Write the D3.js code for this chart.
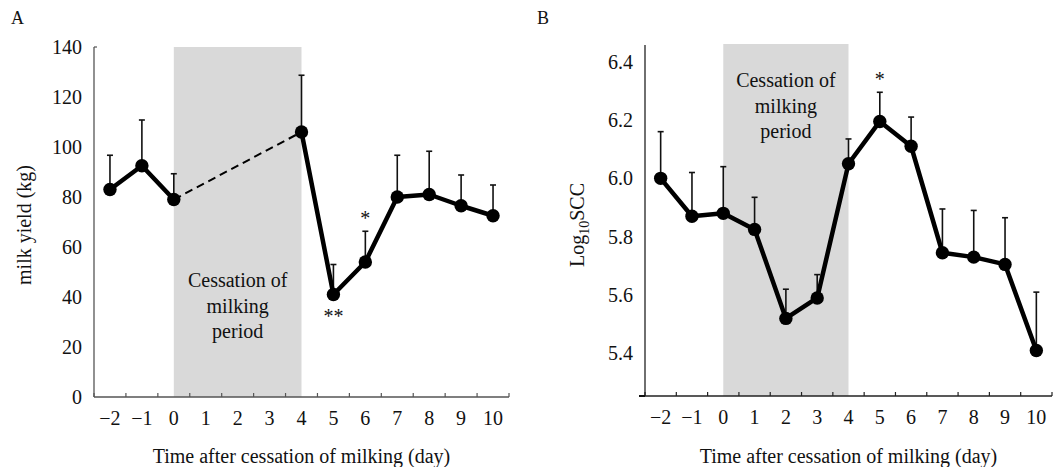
<!DOCTYPE html>
<html><head><meta charset="utf-8">
<script src="https://cdn.jsdelivr.net/npm/d3@7"></script>
<style>
body{margin:0;background:#fff;}
svg text{font-family:"Liberation Serif","Times New Roman",serif;fill:#111;}
</style></head>
<body>
<svg id="chart" width="1060" height="467"></svg>
<script>
// ---- data ----
const days = [-2,-1,0,1,2,3,4,5,6,7,8,9,10];
const milkYield    = [83, 92.5, 79, null, null, null, 106, 41, 54, 80, 81, 76.5, 72.5];
const milkYieldErr = [13.7, 18.3, 10.3, null, null, null, 22.7, 12, 12.3, 16.7, 17.3, 12.3, 12.3];
const logSCC    = [6.00, 5.87, 5.88, 5.825, 5.52, 5.59, 6.05, 6.195, 6.11, 5.745, 5.73, 5.705, 5.41];
const logSCCErr = [0.16, 0.15, 0.16, 0.11, 0.10, 0.08, 0.085, 0.10, 0.10, 0.15, 0.16, 0.16, 0.20];
const yTicksA = [0,20,40,60,80,100,120,140];
const yTicksB = [5.4,5.6,5.8,6.0,6.2,6.4];
const periodStart = 0, periodEnd = 4;
const sigA = [{day:6, label:"*", pos:"above"},{day:5, label:"**", pos:"below"}];
const sigB = [{day:5, label:"*", pos:"above"}];
const periodLines = ["Cessation of","milking","period"];

const svg = d3.select("#chart");
const fmtDay = d => d < 0 ? "\u2212" + Math.abs(d) : String(d);

function panel(cfg){
  const g = svg.append("g");
  const x = d3.scaleBand().domain(days).range([cfg.x0, cfg.x1]).padding(0);
  const y = d3.scaleLinear().domain(cfg.yDomain).range([cfg.yBottom, cfg.yTop]);
  const cx = d => x(d) + x.bandwidth()/2;

  // shaded period
  g.append("rect")
    .attr("x", cx(periodStart)).attr("y", cfg.shadeTop)
    .attr("width", cx(periodEnd) - cx(periodStart))
    .attr("height", cfg.yBottom - cfg.shadeTop)
    .attr("fill", "#d9d9d9");

  // period text
  const t = g.append("text").attr("text-anchor","middle").attr("font-size",20);
  periodLines.forEach((s,i)=>{
    t.append("tspan").attr("x",(cx(periodStart)+cx(periodEnd))/2)
      .attr("y", cfg.textY + i*25.5).text(s);
  });

  // axes lines
  g.append("line").attr("x1",cfg.x0).attr("x2",cfg.x0)
    .attr("y1",cfg.yBottom).attr("y2",cfg.axisTop)
    .attr("stroke",cfg.axisColor).attr("stroke-width",1.3);
  g.append("line").attr("x1",cfg.x0).attr("x2",cfg.x1)
    .attr("y1",cfg.yBottom).attr("y2",cfg.yBottom)
    .attr("stroke",cfg.axisColor).attr("stroke-width",1.3);
  // x ticks at band edges
  const edges = days.map(d=>x(d)).concat([cfg.x1]);
  g.selectAll(".xt").data(edges).enter().append("line")
    .attr("x1",d=>d).attr("x2",d=>d).attr("y1",cfg.yBottom).attr("y2",cfg.yBottom-4)
    .attr("stroke",cfg.axisColor).attr("stroke-width",1.2);
  if (cfg.cornerTick){
    g.append("line").attr("x1",cfg.x0-6).attr("x2",cfg.x0)
      .attr("y1",cfg.yBottom).attr("y2",cfg.yBottom)
      .attr("stroke","#111").attr("stroke-width",2);
  } else {
    g.append("line").attr("x1",cfg.x0).attr("x2",cfg.x0+3)
      .attr("y1",cfg.axisTop).attr("y2",cfg.axisTop)
      .attr("stroke",cfg.axisColor).attr("stroke-width",1.2);
  }

  // x tick labels via d3 axis
  const xa = g.append("g").attr("transform",`translate(0,${cfg.yBottom})`)
    .call(d3.axisBottom(x).tickSize(0).tickPadding(14).tickFormat(fmtDay));
  xa.select(".domain").remove();
  xa.selectAll("text").attr("font-size",20).attr("font-family","Liberation Serif").attr("fill","#111");

  // y tick labels via d3 axis
  const ya = g.append("g").attr("transform",`translate(${cfg.x0},0)`)
    .call(d3.axisLeft(y).tickValues(cfg.yTicks).tickSize(0).tickPadding(12).tickFormat(cfg.yFmt));
  ya.select(".domain").remove();
  ya.selectAll("text").attr("font-size",20).attr("font-family","Liberation Serif").attr("fill","#111");

  // titles
  g.append("text").attr("x",(cfg.x0+cfg.x1)/2).attr("y",463).attr("text-anchor","middle")
    .attr("font-size",20).text("Time after cessation of milking (day)");
  const yt = g.append("text").attr("transform",`translate(${cfg.yTitleX},${cfg.yTitleY}) rotate(-90)`)
    .attr("text-anchor","middle").attr("font-size",20);
  cfg.yTitle(yt);
  g.append("text").attr("x",cfg.letterX).attr("y",24).attr("font-size",18).text(cfg.letter);

  const pts = days.map((d,i)=>({d, v:cfg.vals[i], e:cfg.errs[i]})).filter(p=>p.v!=null);

  // error bars
  pts.forEach(p=>{
    const top = y(p.v + p.e);
    g.append("line").attr("x1",cx(p.d)).attr("x2",cx(p.d)).attr("y1",y(p.v)).attr("y2",top)
      .attr("stroke","#111").attr("stroke-width",1.6);
    g.append("line").attr("x1",cx(p.d)-3).attr("x2",cx(p.d)+3).attr("y1",top).attr("y2",top)
      .attr("stroke","#111").attr("stroke-width",1.6);
  });

  // lines
  const line = d3.line().x(p=>cx(p.d)).y(p=>y(p.v));
  cfg.segments.forEach(seg=>{
    const sp = pts.filter(p=>p.d>=seg[0] && p.d<=seg[1]);
    g.append("path").attr("d",line(sp)).attr("fill","none").attr("stroke","#000")
      .attr("stroke-width",4.5).attr("stroke-linejoin","round");
  });
  if (cfg.dashed){
    const dp = pts.filter(p=>p.d===cfg.dashed[0]||p.d===cfg.dashed[1]);
    g.append("path").attr("d",line(dp)).attr("fill","none").attr("stroke","#000")
      .attr("stroke-width",2).attr("stroke-dasharray","8,5");
  }
  g.selectAll(".pt").data(pts).enter().append("circle")
    .attr("cx",p=>cx(p.d)).attr("cy",p=>y(p.v)).attr("r",6.7).attr("fill","#000");

  // significance
  cfg.sig.forEach(s=>{
    const i = days.indexOf(s.day);
    const yy = s.pos==="above" ? y(cfg.vals[i]+cfg.errs[i]) - 6 : y(cfg.vals[i]) + 28;
    g.append("text").attr("x",cx(s.day)).attr("y",yy).attr("text-anchor","middle")
      .attr("font-size",20).text(s.label);
  });
}

panel({
  letter:"A", letterX:11,
  x0:94, x1:509, yBottom:397, yTop:47, axisTop:47, shadeTop:47,
  yDomain:[0,140], yTicks:yTicksA, yFmt:d3.format("d"),
  vals:milkYield, errs:milkYieldErr, axisColor:"#555",
  segments:[[-2,0],[4,10]], dashed:[0,4], sig:sigA,
  textY:287, yTitleX:31, yTitleY:225,
  yTitle:t=>t.text("milk yield (kg)")
});

panel({
  letter:"B", letterX:537,
  x0:645, x1:1052, yBottom:396, yTop:45, axisTop:45, shadeTop:44,
  yDomain:[5.254,6.457], yTicks:yTicksB, yFmt:d3.format(".1f"),
  vals:logSCC, errs:logSCCErr, axisColor:"#222", cornerTick:true,
  segments:[[-2,10]], dashed:null, sig:sigB,
  textY:87, yTitleX:584, yTitleY:225,
  yTitle:t=>{ t.append("tspan").text("Log");
              t.append("tspan").attr("font-size",14).attr("dy",5).text("10");
              t.append("tspan").attr("dy",-5).text("SCC"); }
});
</script>
</body></html>
